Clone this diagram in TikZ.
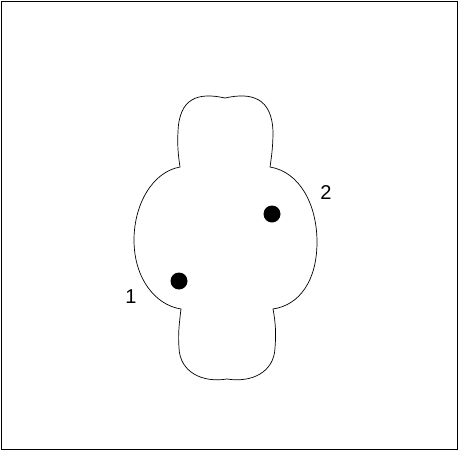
\documentclass[tikz,border=0pt]{standalone}
\usepackage{fontspec}
\setmainfont{Liberation Sans}
\usepackage{tikz}

\begin{document}
\begin{tikzpicture}[x=1pt,y=-1pt,
    dot/.style={circle, fill=black, inner sep=0pt, minimum size=17pt},
    num/.style={font=\fontsize{20}{24}\selectfont}]
    % frame
    \useasboundingbox (0,0) rectangle (458,450);
    \draw[line width=0.7pt] (1,1) rectangle (457,449);

    % outline: top lobe, middle body, bottom lobe
    \draw[line width=0.7pt] (225,98)
        .. controls (252,92) and (272,98) .. (273,132)
        .. controls (273,148) and (271,160) .. (270,167)
        .. controls (300,172) and (317,205) .. (317,242)
        .. controls (317,280) and (300,305) .. (273,309)
        .. controls (276,325) and (276,335) .. (275,348)
        .. controls (274,372) and (252,383) .. (227,379)
        .. controls (202,383) and (180,372) .. (179,348)
        .. controls (178,335) and (179,325) .. (181,309)
        .. controls (155,305) and (134,278) .. (134,240)
        .. controls (134,205) and (152,172) .. (180,167)
        .. controls (179,160) and (177,148) .. (178,132)
        .. controls (179,98) and (198,92) .. (225,98) -- cycle;

    % points and labels
    \node[dot] (p2) at (272,214) {};
    \node[dot] (p1) at (179,281) {};
    \node[num] (l2) at (326,193) {2};
    \node[num] (l1) at (131,297) {1};
\end{tikzpicture}
\end{document}
